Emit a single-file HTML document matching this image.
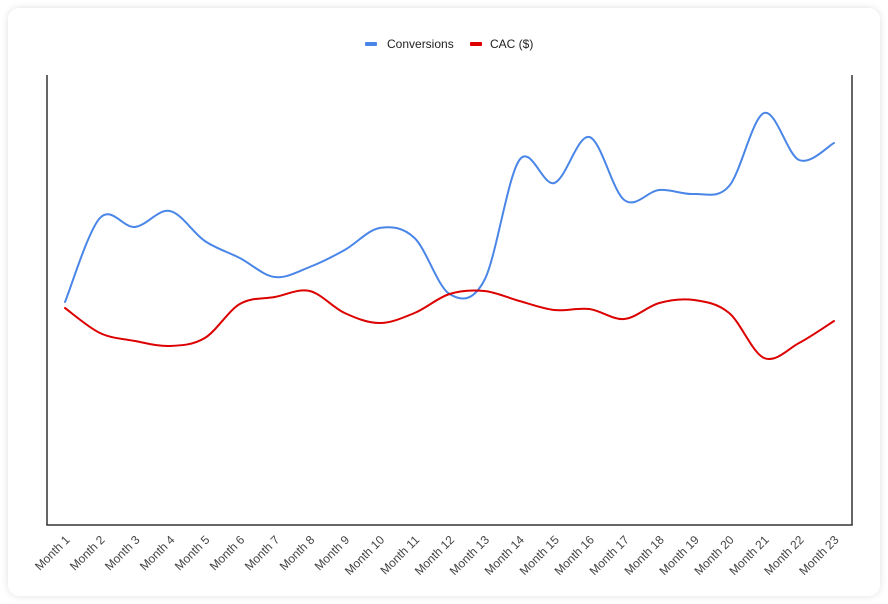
<!DOCTYPE html>
<html>
<head>
<meta charset="utf-8">
<style>
html,body{margin:0;padding:0;background:#fff;width:888px;height:604px;overflow:hidden;}
.card{position:absolute;left:8px;top:8px;width:872px;height:588px;background:#fff;border-radius:11px;box-shadow:0 0 7px rgba(0,0,0,0.13);}
svg{position:absolute;left:0;top:0;}
text{font-family:"Liberation Sans",Arial,sans-serif;}
</style>
</head>
<body>
<div class="card"></div>
<svg width="888" height="604" viewBox="0 0 888 604" xmlns="http://www.w3.org/2000/svg">
  <!-- legend -->
  <rect x="365" y="42" width="12" height="4" rx="1" fill="#4a86e8"/>
  <text x="387" y="48" font-size="12" fill="#222">Conversions</text>
  <rect x="470" y="42" width="12" height="4" rx="1" fill="#dc0000"/>
  <text x="490" y="48" font-size="12" fill="#222">CAC ($)</text>

  <!-- axes -->
  <line x1="47" y1="75" x2="47" y2="525" stroke="#333" stroke-width="1.5"/>
  <line x1="852" y1="75" x2="852" y2="525" stroke="#333" stroke-width="1.5"/>
  <line x1="46.3" y1="525" x2="852.7" y2="525" stroke="#333" stroke-width="1.5"/>

  <!-- Conversions -->
  <path fill="none" stroke="#4a86e8" stroke-width="2" stroke-linejoin="round" stroke-linecap="round"
   d="M65 302 C70.83 288, 88.30 230.5, 99.95 218
      S123.26 228.17, 134.91 227
      S158.21 208.67, 169.86 211
      S193.17 233.17, 204.82 241
      S228.12 252, 239.77 258
      S263.08 275.5, 274.73 277
      S298.03 271.5, 309.68 267
      S332.99 256.5, 344.64 250
      S367.94 230, 379.59 228
      S402.90 227, 414.55 238
      S437.85 287, 449.5 294
      S472.80 302.33, 484.45 280
      S507.76 176.17, 519.41 160
      S542.71 186.83, 554.36 183
      S577.67 134.17, 589.32 137
      S612.62 191.17, 624.27 200
      S647.58 191, 659.23 190
      S682.53 194.67, 694.18 194
      S717.49 199.5, 729.14 186
      S752.44 117.33, 764.09 113
      S787.40 155, 799.05 160
      S828.17 145.83, 834 143"/>

  <!-- CAC -->
  <path fill="none" stroke="#dc0000" stroke-width="2" stroke-linejoin="round" stroke-linecap="round"
   d="M65 308 C70.83 312.17, 88.30 327.5, 99.95 333
      S123.26 338.83, 134.91 341
      S158.21 346.5, 169.86 346
      S193.17 345, 204.82 338
      S228.12 310.83, 239.77 304
      S263.08 299.17, 274.73 297
      S298.03 288.33, 309.68 291
      S332.99 307.67, 344.64 313
      S367.94 323, 379.59 323
      S402.90 317.83, 414.55 313
      S437.85 297.67, 449.5 294
      S472.80 289.83, 484.45 291
      S507.76 297.83, 519.41 301
      S542.71 308.67, 554.36 310
      S577.67 307.5, 589.32 309
      S612.62 320, 624.27 319
      S647.58 306.17, 659.23 303
      S682.53 298.33, 694.18 300
      S717.49 303.33, 729.14 313
      S752.44 353, 764.09 358
      S787.40 349.17, 799.05 343
      S828.17 324.67, 834 321"/>

  <!-- x labels -->
  <g font-size="12" fill="#444" text-anchor="end">
    <text transform="translate(70.5,540.5) rotate(-45)">Month 1</text>
    <text transform="translate(105.45,540.5) rotate(-45)">Month 2</text>
    <text transform="translate(140.41,540.5) rotate(-45)">Month 3</text>
    <text transform="translate(175.36,540.5) rotate(-45)">Month 4</text>
    <text transform="translate(210.32,540.5) rotate(-45)">Month 5</text>
    <text transform="translate(245.27,540.5) rotate(-45)">Month 6</text>
    <text transform="translate(280.23,540.5) rotate(-45)">Month 7</text>
    <text transform="translate(315.18,540.5) rotate(-45)">Month 8</text>
    <text transform="translate(350.14,540.5) rotate(-45)">Month 9</text>
    <text transform="translate(385.09,540.5) rotate(-45)">Month 10</text>
    <text transform="translate(420.05,540.5) rotate(-45)">Month 11</text>
    <text transform="translate(455,540.5) rotate(-45)">Month 12</text>
    <text transform="translate(489.95,540.5) rotate(-45)">Month 13</text>
    <text transform="translate(524.91,540.5) rotate(-45)">Month 14</text>
    <text transform="translate(559.86,540.5) rotate(-45)">Month 15</text>
    <text transform="translate(594.82,540.5) rotate(-45)">Month 16</text>
    <text transform="translate(629.77,540.5) rotate(-45)">Month 17</text>
    <text transform="translate(664.73,540.5) rotate(-45)">Month 18</text>
    <text transform="translate(699.68,540.5) rotate(-45)">Month 19</text>
    <text transform="translate(734.64,540.5) rotate(-45)">Month 20</text>
    <text transform="translate(769.59,540.5) rotate(-45)">Month 21</text>
    <text transform="translate(804.55,540.5) rotate(-45)">Month 22</text>
    <text transform="translate(839.5,540.5) rotate(-45)">Month 23</text>
  </g>
</svg>
</body>
</html>
